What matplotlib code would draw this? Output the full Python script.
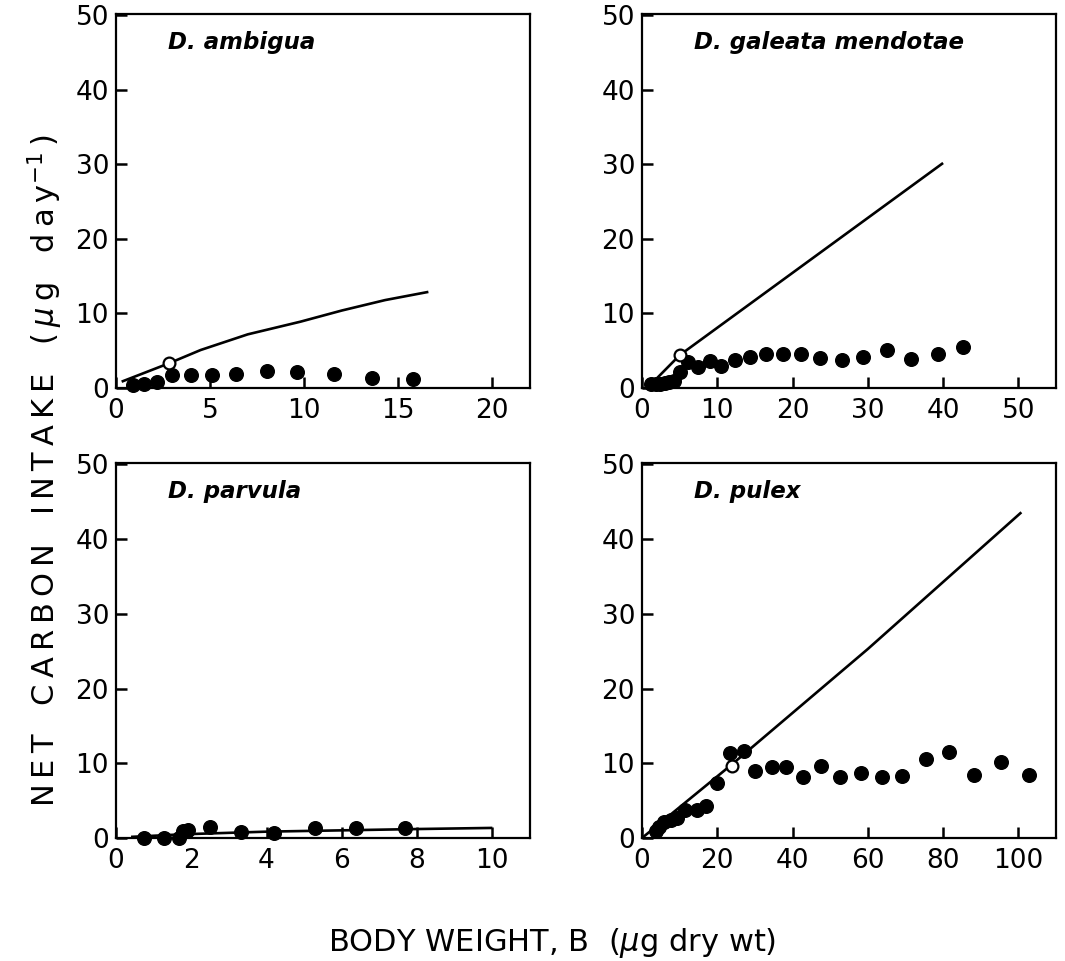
import matplotlib
matplotlib.use("Agg")
import matplotlib.pyplot as plt

# ---- D. ambigua ----
amb_x = [0.9, 1.5, 2.2, 3.0, 4.0, 5.1, 6.4, 8.0, 9.6, 11.6, 13.6, 15.8]
amb_y = [0.4, 0.6, 0.85, 1.75, 1.75, 1.75, 1.9, 2.3, 2.2, 1.9, 1.3, 1.2]
amb_open_x = [2.8]
amb_open_y = [3.3]
amb_line_x = [0.3, 2.8, 4.5, 7.0, 9.8, 12.0, 14.3, 16.6]
amb_line_y = [0.85, 3.3, 5.1, 7.2, 8.9, 10.4, 11.8, 12.9]

# ---- D. galeata mendotae ----
gal_x = [1.2, 1.8, 2.4, 3.0, 3.6, 4.2, 5.0, 6.1, 7.4, 9.1, 10.5, 12.4, 14.4,
         16.5, 18.7, 21.1, 23.6, 26.6, 29.3, 32.5, 35.7, 39.3, 42.7]
gal_y = [0.5, 0.6, 0.6, 0.7, 0.8, 1.0, 2.2, 3.5, 2.85, 3.65, 2.95, 3.75, 4.2,
         4.55, 4.55, 4.5, 4.0, 3.75, 4.1, 5.1, 3.85, 4.55, 5.45]
gal_open_x = [5.0]
gal_open_y = [4.4]
gal_line_x = [1.0, 5.0, 40.0]
gal_line_y = [0.3, 4.4, 30.2]

# ---- D. parvula ----
parv_x = [0.75, 1.28, 1.68, 1.77, 1.9, 2.5, 3.32, 4.2, 5.28, 6.38, 7.68]
parv_y = [0.0, 0.05, 0.0, 1.0, 1.1, 1.5, 0.85, 0.7, 1.4, 1.4, 1.3]
parv_line_x = [0.4, 1.8, 4.0, 8.0, 10.0]
parv_line_y = [0.15, 0.5, 0.85, 1.2, 1.35]

# ---- D. pulex ----
pul_x = [3.8, 4.5, 5.8, 7.6, 9.3, 11.5, 14.5, 17.1, 19.8, 23.3, 27.0, 30.1,
         34.5, 38.2, 42.9, 47.6, 52.5, 58.1, 63.7, 69.0, 75.5, 81.6, 88.3,
         95.5, 102.9]
pul_y = [1.0, 1.45, 2.1, 2.45, 2.7, 3.7, 3.7, 4.35, 7.3, 11.4, 11.6, 9.0,
         9.5, 9.5, 8.2, 9.7, 8.1, 8.75, 8.1, 8.25, 10.6, 11.5, 8.5, 10.2, 8.4]
pul_open_x = [24.0]
pul_open_y = [9.6]
pul_line_x = [0.0, 24.0, 60.0, 100.8]
pul_line_y = [0.0, 9.9, 25.3, 43.6]

species = ["D. ambigua", "D. galeata mendotae", "D. parvula", "D. pulex"]
x_limits = [22, 55, 11, 110]
x_ticks = [[0, 5, 10, 15, 20], [0, 10, 20, 30, 40, 50],
           [0, 2, 4, 6, 8, 10], [0, 20, 40, 60, 80, 100]]
y_ticks = [0, 10, 20, 30, 40, 50]

panels = [
    (amb_x, amb_y, amb_open_x, amb_open_y, amb_line_x, amb_line_y),
    (gal_x, gal_y, gal_open_x, gal_open_y, gal_line_x, gal_line_y),
    (parv_x, parv_y, [], [], parv_line_x, parv_line_y),
    (pul_x, pul_y, pul_open_x, pul_open_y, pul_line_x, pul_line_y),
]

plt.rcParams["font.family"] = ["DejaVu Sans"]

fig = plt.figure(figsize=(10.65, 9.61), dpi=100)
W, H = 1065, 961
boxes = [(116, 14, 530, 388), (642, 14, 1056, 388),
         (116, 463, 530, 838), (642, 463, 1056, 838)]

for i, (box, data) in enumerate(zip(boxes, panels)):
    x0, y0, x1, y1 = box
    ax = fig.add_axes([x0 / W, 1 - y1 / H, (x1 - x0) / W, (y1 - y0) / H])
    px, py, ox, oy, lx, ly = data
    ax.plot(lx, ly, color="black", lw=1.9, solid_capstyle="butt", zorder=2)
    ax.plot(px, py, "o", color="black", ms=9.8, zorder=3, clip_on=False)
    if ox:
        ax.plot(ox, oy, "o", mfc="white", mec="black", mew=1.6, ms=8.5,
                zorder=4, clip_on=False)
    ax.set_xlim(0, x_limits[i])
    ax.set_ylim(0, 50.2)
    ax.set_xticks(x_ticks[i])
    ax.set_yticks(y_ticks)
    ax.tick_params(direction="in", length=8, width=1.8, labelsize=19,
                   colors="black")
    ax.tick_params(axis="x", pad=7)
    ax.tick_params(axis="y", pad=5)
    for s in ax.spines.values():
        s.set_linewidth(1.6)
    ax.text(0.125, 0.925, species[i], transform=ax.transAxes,
            fontsize=16.5, fontweight="bold", fontstyle="italic",
            ha="left", va="center")

# widely tracked capitals for the shared y label
ts = "\u2009"
ylab_words = ["NET", "CARBON", "INTAKE"]
ylab = "   ".join(ts.join(w) for w in ylab_words)
ylab += "   (" + ts + r"$\mu$" + ts + "g" + "   " + ts.join("day") + r"$^{-1}$" + ts + ")"
fig.text(45 / W, 1 - 471 / H, ylab,
         rotation=90, ha="center", va="center", fontsize=22)
fig.text(552 / W, 1 - 943 / H, r"BODY WEIGHT, B  ($\mu$g dry wt)",
         ha="center", va="center", fontsize=22)

fig.savefig("out.png", dpi=100)
